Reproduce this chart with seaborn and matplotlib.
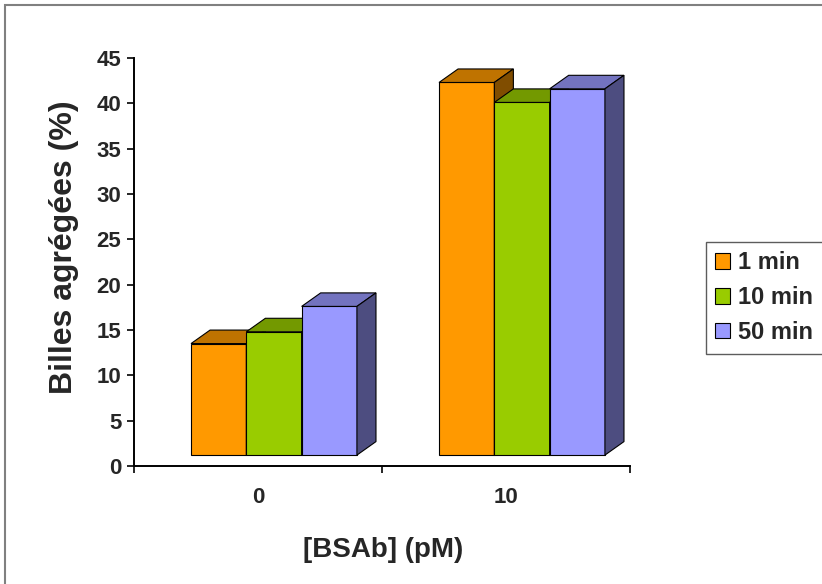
import pandas as pd
import numpy as np
import seaborn as sns
import matplotlib.pyplot as plt
from matplotlib.patches import Polygon, Rectangle
from matplotlib.colors import to_rgb

# -------------------- DATA --------------------
concentrations = ["0", "10"]
times = ["1 min", "10 min", "50 min"]
pct_1min = [13.5, 42.3]
pct_10min = [14.8, 40.1]
pct_50min = [17.6, 41.6]
yticks = [0, 5, 10, 15, 20, 25, 30, 35, 40, 45]

colors = ["#FF9900", "#99CC00", "#9999FF"]

rows = []
for t, vals in zip(times, [pct_1min, pct_10min, pct_50min]):
    for c, v in zip(concentrations, vals):
        rows.append({"conc": c, "time": t, "pct": v})
df = pd.DataFrame(rows)

# -------------------- STYLE --------------------
sns.set_style("white")
plt.rcParams["font.family"] = ["Liberation Sans", "DejaVu Sans"]
plt.rcParams["font.weight"] = "bold"

BASE = 1.2        # front face floor (Excel 3D look)
X_SHIFT = 0.0645  # front faces sit right of category centre
DX = 0.0768       # depth offset, data units
DY = 1.49


def shade(col, f):
    r, g, b = to_rgb(col)
    return (r * f, g * f, b * f)


fig = plt.figure(figsize=(8.22, 5.84), dpi=100)
ax = fig.add_axes([0.1630, 0.2021, 0.6034, 0.6986])

sns.barplot(data=df, x="conc", y="pct", hue="time", palette=colors,
            width=0.669, saturation=1, edgecolor="black", linewidth=0.8,
            ax=ax)

handles, labels = ax.get_legend_handles_labels()
if ax.get_legend() is not None:
    ax.get_legend().remove()

bars = sorted([p for p in ax.patches if p.get_height() > 0], key=lambda p: p.get_x())
for i, p in enumerate(bars):
    top = p.get_height()
    p.set_x(p.get_x() + X_SHIFT)
    p.set_y(BASE)
    p.set_height(top - BASE)
    fc = p.get_facecolor()
    x0, x1 = p.get_x(), p.get_x() + p.get_width()
    z = 2 + i * 0.1
    p.set_zorder(z)
    top_face = Polygon([(x0, top), (x1, top), (x1 + DX, top + DY), (x0 + DX, top + DY)],
                       closed=True, facecolor=shade(fc, 0.75), edgecolor="black",
                       linewidth=0.8, zorder=z + 0.01, clip_on=False)
    side_face = Polygon([(x1, BASE), (x1 + DX, BASE + DY), (x1 + DX, top + DY), (x1, top)],
                        closed=True, facecolor=shade(fc, 0.5), edgecolor="black",
                        linewidth=0.8, zorder=z + 0.02, clip_on=False)
    ax.add_patch(top_face)
    ax.add_patch(side_face)

# -------------------- AXES --------------------
ax.set_xlim(-0.5, 1.5)
ax.set_ylim(0, 45)
ax.set_yticks(yticks)
ax.set_yticklabels([str(v) for v in yticks], fontsize=16, fontweight="bold")
ax.set_xticks([0, 1])
ax.set_xticklabels(concentrations, fontsize=16, fontweight="bold")
ax.set_xticks([-0.5, 0.5, 1.5], minor=True)
ax.tick_params(axis="x", which="major", length=0, pad=15)
ax.tick_params(axis="x", which="minor", length=5, width=1.4, direction="out", bottom=True)
ax.tick_params(axis="y", which="major", length=5, width=1.4, direction="out", left=True, pad=4)

for s in ["top", "right"]:
    ax.spines[s].set_visible(False)
for s in ["left", "bottom"]:
    ax.spines[s].set_linewidth(1.4)
    ax.spines[s].set_color("black")

ax.set_xlabel("[BSAb] (pM)", fontsize=20, fontweight="bold")
ax.set_ylabel("Billes agrégées (%)", fontsize=23, fontweight="bold")
ax.xaxis.set_label_coords(0.502, -0.174)
ax.yaxis.set_label_coords(-0.11, 0.537)

leg = fig.legend(handles, labels, loc="upper left",
                 bbox_to_anchor=(706 / 822, 1 - 242 / 584),
                 prop={"size": 17, "weight": "bold"},
                 handlelength=0.62, handleheight=0.62, handletextpad=0.35,
                 labelspacing=0.5, borderpad=0.4, borderaxespad=0,
                 frameon=True, fancybox=False)
leg.get_frame().set_edgecolor("#333333")
leg.get_frame().set_linewidth(1.0)

# outer chart frame (cut off on the right and bottom like the source)
fig.add_artist(Rectangle((5 / 822, -0.1), 1.2, 1.1 - 5 / 584, transform=fig.transFigure,
                         fill=False, edgecolor="#808080", linewidth=1.5))

fig.savefig("out.png", dpi=100)
